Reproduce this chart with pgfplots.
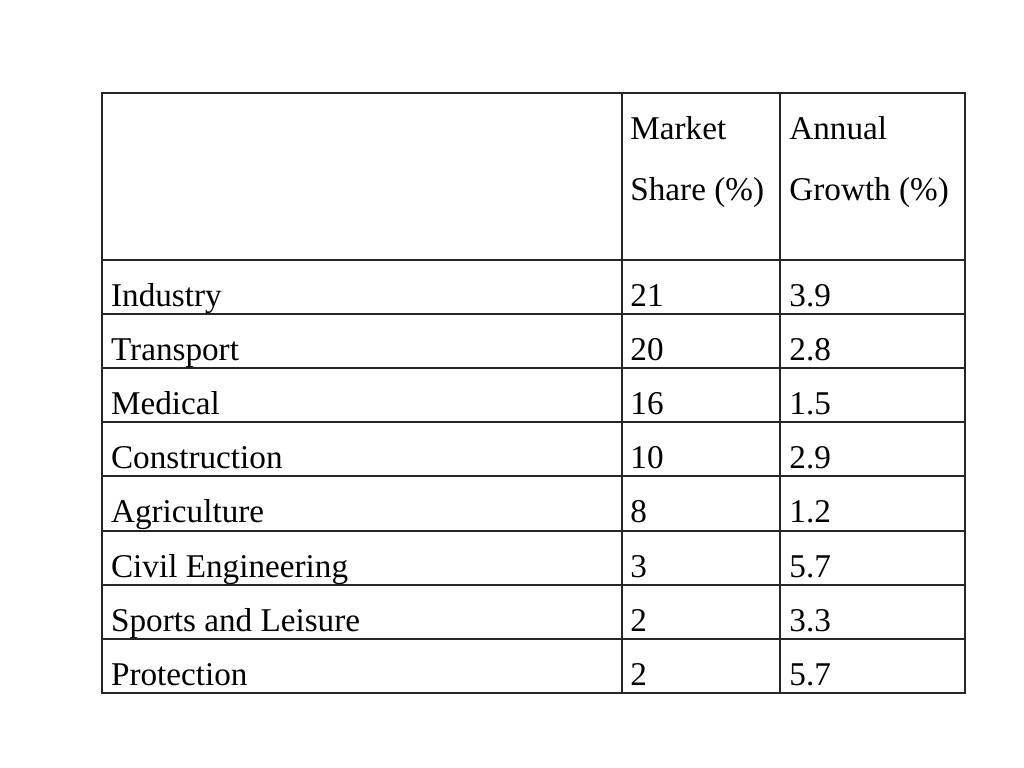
\documentclass[border=0pt]{standalone}
\usepackage{pgfplots}
\usepackage{pgfplotstable}
\pgfplotsset{compat=1.18}
\usepackage{fontspec}
\setmainfont{LiberationSerif}[Extension=.ttf, UprightFont=*-Regular, BoldFont=*-Bold, ItalicFont=*-Italic, BoldItalicFont=*-BoldItalic]
\tikzset{txt/.style={anchor=base west, inner sep=0pt, text=black, font=\rmfamily\fontsize{16.6bp}{20bp}\selectfont}}
\pgfplotstableread[col sep=comma]{
y,name,share,growth
306,Industry,21,3.9
360.2,Transport,20,2.8
414.4,Medical,16,1.5
468.6,Construction,10,2.9
522.8,Agriculture,8,1.2
577,Civil Engineering,3,5.7
631.2,Sports and Leisure,2,3.3
685.4,Protection,2,5.7
}\datatable
\begin{document}
\begin{tikzpicture}
\begin{axis}[
  hide axis, scale only axis,
  width=512bp, height=384bp,
  xmin=0, xmax=1024, ymin=0, ymax=768,
  y dir=reverse, clip=false,
  every node near coord/.style={txt},
]
\addplot[draw=none, mark=none, nodes near coords={\pgfplotspointmeta}, point meta=explicit symbolic]
  table[x expr=110.7, y=y, meta=name] {\datatable};
\addplot[draw=none, mark=none, nodes near coords={\pgfplotspointmeta}, point meta=explicit symbolic]
  table[x expr=630, y=y, meta=share] {\datatable};
\addplot[draw=none, mark=none, nodes near coords={\pgfplotspointmeta}, point meta=explicit symbolic]
  table[x expr=789, y=y, meta=growth] {\datatable};
\node[txt] at (axis cs:630,140) {Market};
\node[txt] at (axis cs:630,200) {Share (\%)};
\node[txt] at (axis cs:789,140) {Annual};
\node[txt] at (axis cs:789,200) {Growth (\%)};
\draw[line width=1bp, black!85] (axis cs:102,93.5) rectangle (axis cs:964.5,693);
\pgfplotsinvokeforeach{259.5,313.7,367.9,422.1,476.3,530.5,584.7,638.9}{
  \draw[line width=1bp, black!85] (axis cs:102,#1) -- (axis cs:964.5,#1);
}
\draw[line width=1bp, black!85] (axis cs:622,93.5) -- (axis cs:622,693);
\draw[line width=1bp, black!85] (axis cs:780.3,93.5) -- (axis cs:780.3,693);
\end{axis}
\path (0,0) rectangle (512bp,384bp);
\end{tikzpicture}
\end{document}
